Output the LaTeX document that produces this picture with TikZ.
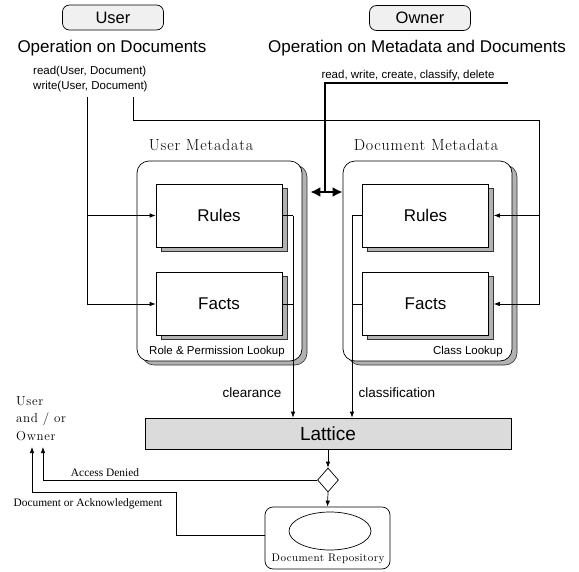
\documentclass[tikz,border=0pt]{standalone}
\usepackage{fontspec}
\setsansfont{Liberation Sans}
\usetikzlibrary{arrows.meta,shapes.geometric,shadows}
\newfontfamily\spacedserif[LetterSpace=5]{Latin Modern Roman}
\newfontfamily\narrowspaced[LetterSpace=4]{Latin Modern Roman}
\newfontfamily\timeslike{Liberation Serif}

\tikzset{
  actor/.style={draw, rounded corners=7pt, fill=black!6, line width=0.7pt,
    minimum width=101pt, minimum height=25pt, inner sep=0pt, font=\sffamily\fontsize{16.5}{18}\selectfont},
  heading/.style={font=\sffamily\fontsize{17}{19}\selectfont, inner sep=0pt},
  small/.style={font=\sffamily\fontsize{11.5}{15}\selectfont, inner sep=0pt},
  metabox/.style={draw, rounded corners=12pt, fill=white, line width=0.7pt,
    minimum width=165pt, minimum height=200pt, inner sep=0pt,
    general shadow={shadow xshift=5pt, shadow yshift=-4pt, fill=black!30, draw=black!80, line width=0.6pt}},
  metatitle/.style={font=\spacedserif\fontsize{16}{18}\selectfont, inner sep=0pt},
  kbox/.style={draw, fill=white, line width=0.7pt, minimum width=126pt, minimum height=63pt, inner sep=0pt,
    font=\sffamily\fontsize{17}{19}\selectfont,
    general shadow={shadow xshift=5pt, shadow yshift=-4pt, fill=black!30, draw=black!80, line width=0.6pt}},
  conn/.style={line width=0.7pt},
  arr/.style={line width=0.7pt, -{Latex[length=6pt,width=4.5pt]}},
  bigarr/.style={line width=2.6pt},
  seriflabel/.style={font=\timeslike\fontsize{11.4}{13}\selectfont, inner sep=0pt},
}

\begin{document}
\begin{tikzpicture}[x=1pt, y=-1pt]
\useasboundingbox (0,0) rectangle (579,571);

% actors and their operations
\node[actor] (user) at (113,17.5) {User};
\node[actor] (owner) at (420,18) {Owner};
\node[heading] (uop) at (112,48) {Operation on Documents};
\node[heading] (oop) at (417,48) {Operation on Metadata and Documents};
\node[small, anchor=west] (rd) at (33,72) {read(User, Document)};
\node[small, anchor=west] (wr) at (33,87) {write(User, Document)};
\node[small] (ops) at (408,76) {read, write, create, classify, delete};

% metadata containers
\node[metabox] (umeta) at (219.5,261) {};
\node[metabox, minimum width=169pt] (dmeta) at (427.5,261) {};
\node[metatitle] (umt) at (201,145) {User Metadata};
\node[metatitle] (dmt) at (426,145) {Document Metadata};

\node[kbox] (urules) at (219,215.5) {Rules};
\node[kbox] (ufacts) at (219,304) {Facts};
\node[kbox] (drules) at (425.5,215.5) {Rules};
\node[kbox] (dfacts) at (425.5,304) {Facts};

\node[small] (ulook) at (217,352) {Role \& Permission Lookup};
\node[small, anchor=east] (dlook) at (503,352) {Class Lookup};

% lattice and decision
\node[draw, fill=black!14, line width=0.7pt, minimum width=366pt, minimum height=31pt, inner sep=0pt,
  font=\sffamily\fontsize{19}{21}\selectfont] (lattice) at (328,433.5) {Lattice};
\node[diamond, draw, fill=white, line width=0.7pt, minimum width=21pt, minimum height=24pt, inner sep=0pt,
  aspect=0.87] (dec) at (328,480) {};

% repository
\node[draw, rounded corners=8pt, line width=0.7pt, minimum width=125pt, minimum height=62pt, inner sep=0pt] (repo) at (327.5,538) {};
\node[ellipse, draw, line width=0.7pt, minimum width=82pt, minimum height=38pt, inner sep=0pt] (store) at (330,531) {};
\node[font=\narrowspaced\fontsize{11}{12}\selectfont, inner sep=0pt, anchor=center] (repolbl) at (328,559) {Document Repository};

% requester
\node[font=\spacedserif\fontsize{13}{17.5}\selectfont, align=left, anchor=north west, inner sep=0pt] (req) at (16,396)
  {User\\and / or\\Owner};

\node[small, font=\sffamily\fontsize{13.5}{15}\selectfont] (clr) at (252,393) {clearance};
\node[small, font=\sffamily\fontsize{13.5}{15}\selectfont] (cls) at (397,393) {classification};
\node[seriflabel] (den) at (105,473) {Access Denied};
\node[seriflabel] (ack) at (88,504) {Document or Acknowledgement};

% user operations feed user metadata
\coordinate (rdtop) at (87,97);
\draw[arr] (rdtop) |- (ufacts.west);
\draw[arr] (rdtop |- urules.west) -- (urules.west);

% write operation feeds document metadata
\coordinate (wrtop) at (133,97);
\coordinate (wrknee) at (539,120);
\draw[arr] (wrtop) |- (wrknee) |- ([xshift=5pt]dfacts.east);
\draw[arr] (wrknee |- drules.east) -- ([xshift=5pt]drules.east);

% owner operations reach both containers
\coordinate (owntail) at (508,83);
\coordinate (ownknee) at (325,83);
\coordinate (ownfoot) at (325,192);
\draw[bigarr] (owntail) -- (ownknee) -- (ownfoot);
\draw[bigarr, {Latex[length=10pt,width=10pt]}-{Latex[length=10pt,width=10pt]}]
  ([xshift=8pt]umeta.east |- ownfoot) -- (dmeta.west |- ownfoot);

% clearance and classification into the lattice
\coordinate (clrx) at (293,215.5);
\draw[conn] (urules.east) -- (clrx);
\draw[conn] (ufacts.east) -- (clrx |- ufacts.east);
\draw[arr] (clrx) -- (clrx |- lattice.north);
\coordinate (clsx) at (352,215.5);
\draw[conn] (drules.west) -- (clsx);
\draw[conn] (dfacts.west) -- (clsx |- dfacts.west);
\draw[arr] (clsx) -- (clsx |- lattice.north);

% decision outcome
\draw[arr] (lattice.south) -- (dec.north);
\draw[arr] (dec.south) -- (repo.north);
\coordinate (denx) at (43,447);
\draw[arr] (dec.west) -| (denx);
\coordinate (ackout) at (265,535);
\coordinate (ackknee) at (176,492);
\coordinate (ackx) at (32,447);
\draw[arr] (ackout) -| (ackknee) -| (ackx);
\end{tikzpicture}
\end{document}
